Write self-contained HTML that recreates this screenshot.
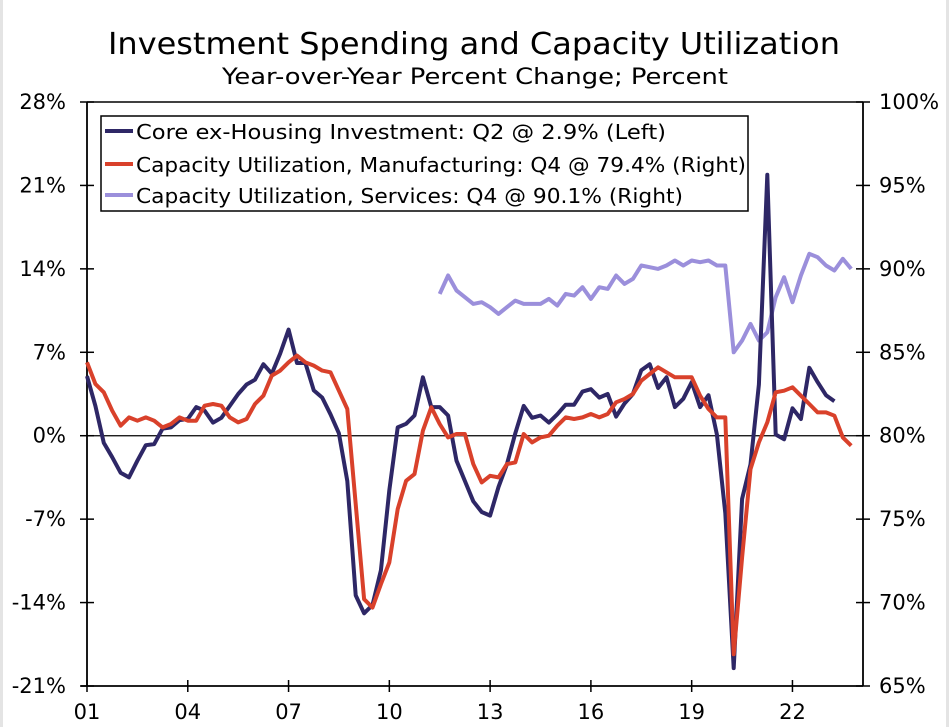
<!DOCTYPE html>
<html><head><meta charset="utf-8"><style>
html,body{margin:0;padding:0;background:#fff;}
svg{display:block;font-family:"DejaVu Sans","Liberation Sans",sans-serif;}
</style></head><body>
<svg id="chart" width="949" height="727" viewBox="0 0 949 727">
<rect x="0" y="0" width="949" height="727" fill="#fff"/>
<line x1="1.5" y1="0" x2="1.5" y2="727" stroke="#e4e4e4" stroke-width="3"/>
<line x1="947.5" y1="0" x2="947.5" y2="727" stroke="#e4e4e4" stroke-width="3"/>
<text x="474" y="54" text-anchor="middle" font-size="30" textLength="732" lengthAdjust="spacingAndGlyphs">Investment Spending and Capacity Utilization</text>
<text x="475" y="84" text-anchor="middle" font-size="22" textLength="506" lengthAdjust="spacingAndGlyphs">Year-over-Year Percent Change; Percent</text>
<g id="axes"></g>
<g id="series"></g>
<g>
<rect x="101" y="116" width="647" height="95" fill="#fff" stroke="#000" stroke-width="1.5"/>
<line x1="105" y1="131" x2="133" y2="131" stroke="#2e2766" stroke-width="4"/>
<text x="136" y="139" font-size="20" textLength="530" lengthAdjust="spacingAndGlyphs">Core ex-Housing Investment: Q2 @ 2.9% (Left)</text>
<line x1="105" y1="164" x2="133" y2="164" stroke="#d9412b" stroke-width="4"/>
<text x="136" y="172" font-size="20" textLength="610" lengthAdjust="spacingAndGlyphs">Capacity Utilization, Manufacturing: Q4 @ 79.4% (Right)</text>
<line x1="105" y1="195" x2="133" y2="195" stroke="#9b8fdb" stroke-width="4"/>
<text x="136" y="203" font-size="20" textLength="547" lengthAdjust="spacingAndGlyphs">Capacity Utilization, Services: Q4 @ 90.1% (Right)</text>
</g>
</svg>
<script>
const leftTicks = [28, 21, 14, 7, 0, -7, -14, -21];
const leftTickLabels = ["28%", "21%", "14%", "7%", "0%", "-7%", "-14%", "-21%"];
const rightTicks = [100, 95, 90, 85, 80, 75, 70, 65];
const rightTickLabels = ["100%", "95%", "90%", "85%", "80%", "75%", "70%", "65%"];
const xTickYears = [2001, 2004, 2007, 2010, 2013, 2016, 2019, 2022];
const xTickLabels = ["01", "04", "07", "10", "13", "16", "19", "22"];
const startYear = 2001;
const coreInvestment = [
5.0,2.5,-0.6,-1.8, -3.1,-3.5,-2.1,-0.8, -0.7,0.6,0.7,1.3, 1.4,2.4,2.1,1.1,
1.5,2.5,3.5,4.3, 4.7,6.0,5.2,6.9, 8.9,6.1,6.1,3.8, 3.2,1.8,0.2,-3.8,
-13.4,-14.9,-14.2,-11.3, -4.6,0.7,1.0,1.7, 4.9,2.4,2.4,1.7, -2.1,-3.8,-5.5,-6.4,
-6.7,-4.3,-2.4,0.2, 2.5,1.5,1.7,1.1, 1.8,2.6,2.6,3.7, 3.9,3.2,3.5,1.6,
2.7,3.5,5.5,6.0, 4.0,4.9,2.4,3.1, 4.5,2.4,3.4,0.1, -6.5,-19.5,-5.3,-2.4,
4.3,21.9,0.1,-0.3, 2.3,1.4,5.7,4.5, 3.4,2.9];
const capUtilManufacturing = [
84.4,83.1,82.6,81.5, 80.6,81.1,80.9,81.1, 80.9,80.5,80.7,81.1, 80.9,80.9,81.8,81.9,
81.8,81.1,80.8,81.0, 81.9,82.4,83.6,83.9, 84.4,84.8,84.4,84.2, 83.9,83.8,82.7,81.6,
75.9,70.2,69.7,71.1, 72.4,75.6,77.3,77.7, 80.3,81.7,80.7,79.9, 80.1,80.1,78.3,77.2,
77.6,77.5,78.3,78.4, 80.1,79.6,79.9,80.0, 80.6,81.1,81.0,81.1, 81.3,81.1,81.3,82.0,
82.2,82.5,83.3,83.7, 84.1,83.8,83.5,83.5, 83.5,82.4,81.6,81.1, 81.1,66.9,72.7,78.0,
79.6,80.8,82.6,82.7, 82.9,82.4,81.9,81.4, 81.4,81.2,79.9,79.4];
const servicesStartIndex = 42; // 2011 Q3
const capUtilServices = [
88.5,89.6, 88.7,88.3,87.9,88.0, 87.7,87.3,87.7,88.1, 87.9,87.9,87.9,88.2,
87.8,88.5,88.4,88.9, 88.2,88.9,88.8,89.6, 89.1,89.4,90.2,90.1, 90.0,90.2,90.5,90.2,
90.5,90.4,90.5,90.2, 90.2,85.0,85.7,86.7, 85.7,86.2,88.3,89.5, 88.0,89.6,90.9,90.7,
90.2,89.9,90.6,90.0];

const X0 = 87, X1 = 863, YT = 102, YB = 686;
const xMinYear = 2001, xMaxYear = 2024.1;
function xScale(t){ return X0 + (t - xMinYear) / (xMaxYear - xMinYear) * (X1 - X0); }
function yLeft(v){ return YB - (v - (-21)) / (28 - (-21)) * (YB - YT); }
function yRight(v){ return YB - (v - 65) / (100 - 65) * (YB - YT); }
function qTime(i){ return startYear + i / 4; }

const NS = "http://www.w3.org/2000/svg";
const axes = document.getElementById("axes");
const series = document.getElementById("series");
function mk(tag, attrs, parent){
  const e = document.createElementNS(NS, tag);
  for (const k in attrs) e.setAttribute(k, attrs[k]);
  parent.appendChild(e);
  return e;
}
let fr = mk("line", {x1:X0, y1:YT, x2:X0, y2:YB, stroke:"#000", "stroke-width":1.8}, axes);


fr = mk("line", {x1:X1, y1:YT, x2:X1, y2:YB, stroke:"#000", "stroke-width":1.8}, axes);


fr = mk("line", {x1:X0, y1:YT, x2:X1, y2:YT, stroke:"#000", "stroke-width":1.5}, axes);


fr = mk("line", {x1:X0-6, y1:YB, x2:X1, y2:YB, stroke:"#000", "stroke-width":1.8}, axes);


let zl = mk("line", {x1:X0, y1:yLeft(0), x2:X1, y2:yLeft(0), stroke:"#000", "stroke-width":1.2}, axes);



leftTicks.forEach((v, i) => {
  const y = yLeft(v);
  const t = mk("line", {x1:X0-7, y1:y, x2:X0+7, y2:y, stroke:"#000", "stroke-width":1.5}, axes);
  
  
  const l = mk("text", {x:66, y:y+7, "text-anchor":"end", "font-size":21}, axes);
  l.textContent = leftTickLabels[i];
  
  
});
rightTicks.forEach((v, i) => {
  const y = yRight(v);
  const t = mk("line", {x1:X1-7, y1:y, x2:X1+7, y2:y, stroke:"#000", "stroke-width":1.5}, axes);
  
  
  const l = mk("text", {x:879, y:y+7, "text-anchor":"start", "font-size":21}, axes);
  l.textContent = rightTickLabels[i];
  
  
});
xTickYears.forEach((yr, i) => {
  const x = xScale(yr);
  const t = mk("line", {x1:x, y1:YB-6, x2:x, y2:YB+6, stroke:"#000", "stroke-width":1.5}, axes);
  
  
  const l = mk("text", {x:x, y:YB+33, "text-anchor":"middle", "font-size":21}, axes);
  l.textContent = xTickLabels[i];
  
  
});

function pathFrom(vals, offset, yfn){
  return vals.map((v, i) => (i ? "L" : "M") + xScale(qTime(i + offset)).toFixed(1) + "," + yfn(v).toFixed(1)).join(" ");
}
const pServ = mk("path", {d:pathFrom(capUtilServices, servicesStartIndex, yRight), fill:"none", stroke:"#9b8fdb", "stroke-width":4, "stroke-linejoin":"round"}, series);


const pCore = mk("path", {d:pathFrom(coreInvestment, 0, yLeft), fill:"none", stroke:"#2e2766", "stroke-width":4, "stroke-linejoin":"round"}, series);


const pMfg = mk("path", {d:pathFrom(capUtilManufacturing, 0, yRight), fill:"none", stroke:"#d9412b", "stroke-width":4, "stroke-linejoin":"round"}, series);


</script>
</body></html>
